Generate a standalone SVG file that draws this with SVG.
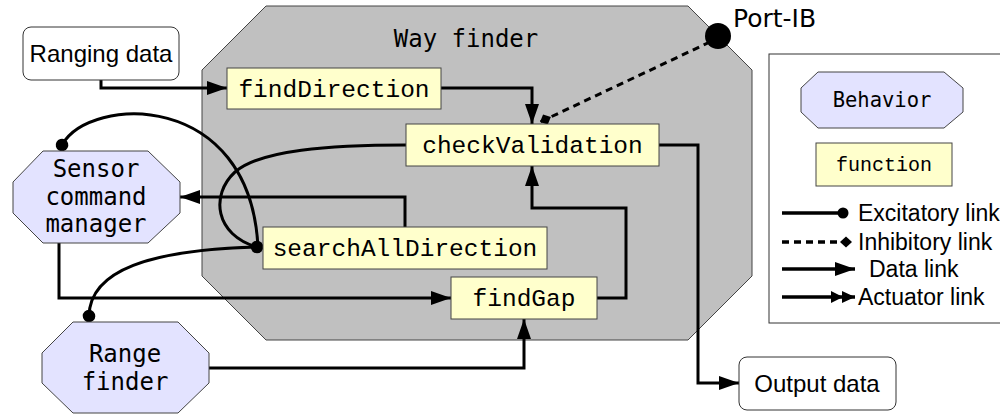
<svg xmlns="http://www.w3.org/2000/svg" width="1000" height="415" viewBox="0 0 1000 415">
  <style>
    .behavior { fill: #e3e3ff; stroke: #444; stroke-width: 1; }
    .func { fill: #ffffcc; stroke: #444; stroke-width: 1; }
    .io { fill: #ffffff; stroke: #333; stroke-width: 1; }
    .mono { font-family: "DejaVu Sans Mono", monospace; font-size: 24px; fill: #000; }
    .mono-sm { font-family: "DejaVu Sans Mono", monospace; font-size: 20.5px; fill: #000; }
    .port { font-family: "DejaVu Sans", sans-serif; font-size: 25px; fill: #000; }
    .code { font-family: "Liberation Mono", "Courier New", monospace; font-size: 24.5px; fill: #000; }
    .code-sm { font-family: "Liberation Mono", "Courier New", monospace; font-size: 20px; fill: #000; }
    .sans { font-family: "Liberation Sans", Arial, sans-serif; font-size: 24px; fill: #000; }
    .legend-text { font-family: "Liberation Sans", Arial, sans-serif; font-size: 23px; fill: #000; }
    .link { fill: none; stroke: #000; stroke-width: 3; }
    .data { marker-end: url(#arrow); }
    .excite { marker-end: url(#dot); }
    .inhibit { stroke-dasharray: 7 5; marker-end: url(#diamond); }
  </style>
  <defs>
    <marker id="arrow" markerUnits="userSpaceOnUse" markerWidth="20" markerHeight="14" refX="20" refY="7" orient="auto">
      <path d="M0,0 L20,7 L0,14 z" fill="#000"/>
    </marker>
    <marker id="arrow2" markerUnits="userSpaceOnUse" markerWidth="24" markerHeight="12" refX="24" refY="6" orient="auto">
      <path d="M0,0 L12,6 L0,12 z M11,0 L24,6 L11,12 z" fill="#000"/>
    </marker>
    <marker id="dot" markerUnits="userSpaceOnUse" markerWidth="14" markerHeight="14" refX="7" refY="7" orient="auto">
      <circle cx="7" cy="7" r="6.3" fill="#000"/>
    </marker>
    <marker id="dot-small" markerUnits="userSpaceOnUse" markerWidth="12" markerHeight="12" refX="6" refY="6" orient="auto">
      <circle cx="6" cy="6" r="5.5" fill="#000"/>
    </marker>
    <marker id="diamond" markerUnits="userSpaceOnUse" markerWidth="14" markerHeight="12" refX="12" refY="6" orient="auto">
      <path d="M0,6 L6,0.5 L12,6 L6,11.5 z" fill="#000"/>
    </marker>
  </defs>

  <!-- Way finder composite behaviour -->
  <g id="way-finder">
    <polygon points="266,6 688,6 752,70 752,276 688,340 266,340 202,276 202,70" fill="#c0c0c0" stroke="#444" stroke-width="1"/>
    <text class="mono" x="466" y="47" text-anchor="middle">Way finder</text>
  </g>

  <!-- Connectors -->
  <g id="connectors">
    <!-- data links -->
    <path class="link data" d="M101,80 V88 H227"/>
    <path class="link data" d="M441,88 H532 V124"/>
    <path class="link data" d="M659,145 H698 V383 H739"/>
    <path class="link data" d="M597,298 H626 V208 H532 V166"/>
    <path class="link data" d="M405,227 V197 H180"/>
    <path class="link data" d="M59,243 V298 H451"/>
    <path class="link data" d="M209,368 H524 V319"/>
    <!-- inhibitory link from Port-IB -->
    <path class="link inhibit" d="M710,42 L540,122"/>
    <!-- excitatory links -->
    <path class="link" d="M406,145 C330,145 260,150 235,172 C210,195 215,235 257,247"/>
    <path class="link excite" d="M258,247 C250,90 90,95 62,145"/>
    <path class="link excite" d="M257,247 C150,250 90,270 89,316"/>
    <circle cx="257" cy="247" r="6.3" fill="#000"/>
  </g>

  <!-- Port-IB -->
  <g id="port-ib">
    <circle cx="718" cy="36" r="13" fill="#000"/>
    <text class="port" x="733" y="27">Port-IB</text>
  </g>

  <!-- External data -->
  <g id="ranging-data">
    <rect class="io" x="23" y="27" width="156" height="53" rx="8"/>
    <text class="sans" x="101" y="62" text-anchor="middle">Ranging data</text>
  </g>
  <g id="output-data">
    <rect class="io" x="739" y="357" width="157" height="53" rx="8"/>
    <text class="sans" x="817" y="392" text-anchor="middle">Output data</text>
  </g>

  <!-- Functions -->
  <g id="find-direction">
    <rect class="func" x="227" y="68" width="214" height="41"/>
    <text class="code" x="334" y="97" text-anchor="middle">findDirection</text>
  </g>
  <g id="check-validation">
    <rect class="func" x="406" y="124" width="253" height="42"/>
    <text class="code" x="532.5" y="153" text-anchor="middle">checkValidation</text>
  </g>
  <g id="search-all-direction">
    <rect class="func" x="263" y="227" width="284" height="42"/>
    <text class="code" x="405" y="256" text-anchor="middle">searchAllDirection</text>
  </g>
  <g id="find-gap">
    <rect class="func" x="451" y="277" width="146" height="42"/>
    <text class="code" x="524" y="306" text-anchor="middle">findGap</text>
  </g>

  <!-- Behaviours -->
  <g id="sensor-command-manager">
    <polygon class="behavior" points="43,151 148,151 180,182 180,213 148,243 43,243 13,213 13,182"/>
    <text class="mono" x="96" y="177" text-anchor="middle">Sensor</text>
    <text class="mono" x="96" y="205" text-anchor="middle">command</text>
    <text class="mono" x="96" y="232" text-anchor="middle">manager</text>
  </g>
  <g id="range-finder">
    <polygon class="behavior" points="73,322 178,322 209,353 209,383 178,413 73,413 42,383 42,353"/>
    <text class="mono" x="125" y="362" text-anchor="middle">Range</text>
    <text class="mono" x="125" y="390" text-anchor="middle">finder</text>
  </g>

  <!-- Legend -->
  <g id="legend">
    <rect x="769" y="54" width="240" height="269" fill="#fff" stroke="#333" stroke-width="1"/>
    <polygon class="behavior" points="818,72 944,72 963,88 963,112 944,128 818,128 801,112 801,88"/>
    <text class="mono-sm" x="882" y="107" text-anchor="middle">Behavior</text>
    <rect class="func" x="816" y="143" width="136" height="43"/>
    <text class="code-sm" x="884" y="171" text-anchor="middle">function</text>
    <line x1="782" y1="213" x2="843" y2="213" stroke="#000" stroke-width="3.3" marker-end="url(#dot-small)"/>
    <line x1="782" y1="242" x2="852" y2="242" stroke="#000" stroke-width="3.3" stroke-dasharray="7 5" marker-end="url(#diamond)"/>
    <line x1="782" y1="269" x2="855" y2="269" stroke="#000" stroke-width="3.3" marker-end="url(#arrow)"/>
    <line x1="782" y1="297" x2="855" y2="297" stroke="#000" stroke-width="3.3" marker-end="url(#arrow2)"/>
    <text class="legend-text" x="858" y="221">Excitatory link</text>
    <text class="legend-text" x="858" y="250">Inhibitory link</text>
    <text class="legend-text" x="869" y="277">Data link</text>
    <text class="legend-text" x="858" y="305">Actuator link</text>
  </g>
</svg>
